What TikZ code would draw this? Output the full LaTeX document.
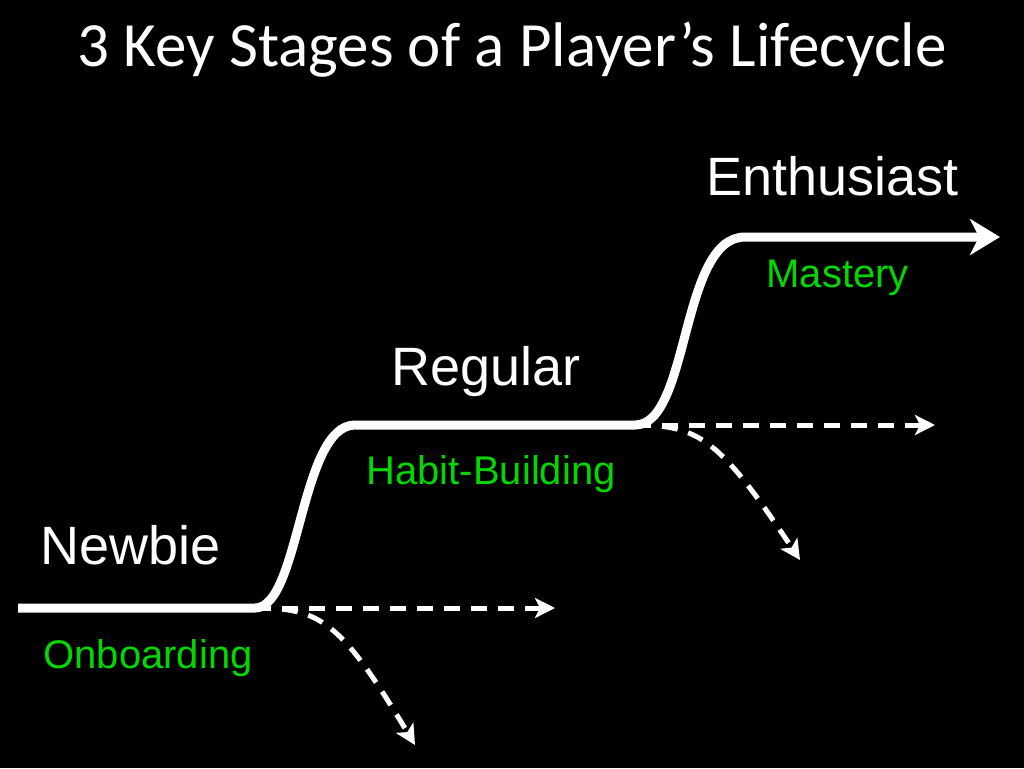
\documentclass[tikz,border=0pt]{standalone}
\usepackage{fontspec}
\setmainfont{Liberation Sans}
\newfontfamily\titlefont{Carlito}
\usetikzlibrary{arrows.meta}
\begin{document}
\begin{tikzpicture}[x=1pt,y=-1pt,
  main/.style={white,line width=9pt,-{Stealth[length=30pt,width=36pt,inset=9pt]}},
  dsh/.style={white,line width=5pt,dash pattern=on 16pt off 11pt,-{Stealth[length=20pt,width=20pt,inset=5pt]}},
  lab/.style={white,font=\fontsize{54}{58}\selectfont,anchor=base west},
  glab/.style={green!85!black,font=\fontsize{40}{44}\selectfont,anchor=base west}]
\fill[black] (0,0) rectangle (1024,768);
\useasboundingbox (0,0) rectangle (1024,768);
\node[white,font=\titlefont\fontsize{63}{68}\selectfont] (title) at (512,50) {3 Key Stages of a Player’s Lifecycle};
\coordinate (s) at (18,608);
\coordinate (b1) at (255,608);
\coordinate (t1) at (355,425);
\coordinate (b2) at (635,425);
\coordinate (t2) at (745,237);
\coordinate (e) at (1000,237);
\draw[main] (s) -- (b1) .. controls (300,608) and (300,425) .. (t1) -- (b2)
  .. controls (690,425) and (680,237) .. (t2) -- (e);
\coordinate (d1) at (555,608);
\coordinate (c1) at (415,745);
\coordinate (d2) at (935,425);
\coordinate (c2) at (800,560);
\draw[dsh] (b1) -- (d1);
\draw[dsh] (b1) .. controls (320,608) and (340,620) .. (c1);
\draw[dsh] (b2) -- (d2);
\draw[dsh] (b2) .. controls (700,425) and (720,440) .. (c2);
\node[lab] (n) at (37,564) {Newbie};
\node[glab] (no) at (40,668) {Onboarding};
\node[lab] (r) at (388,385) {Regular};
\node[glab] (rh) at (363,484) {Habit-Building};
\node[lab] (en) at (703,195) {Enthusiast};
\node[glab] (em) at (763,287) {Mastery};
\end{tikzpicture}
\end{document}
